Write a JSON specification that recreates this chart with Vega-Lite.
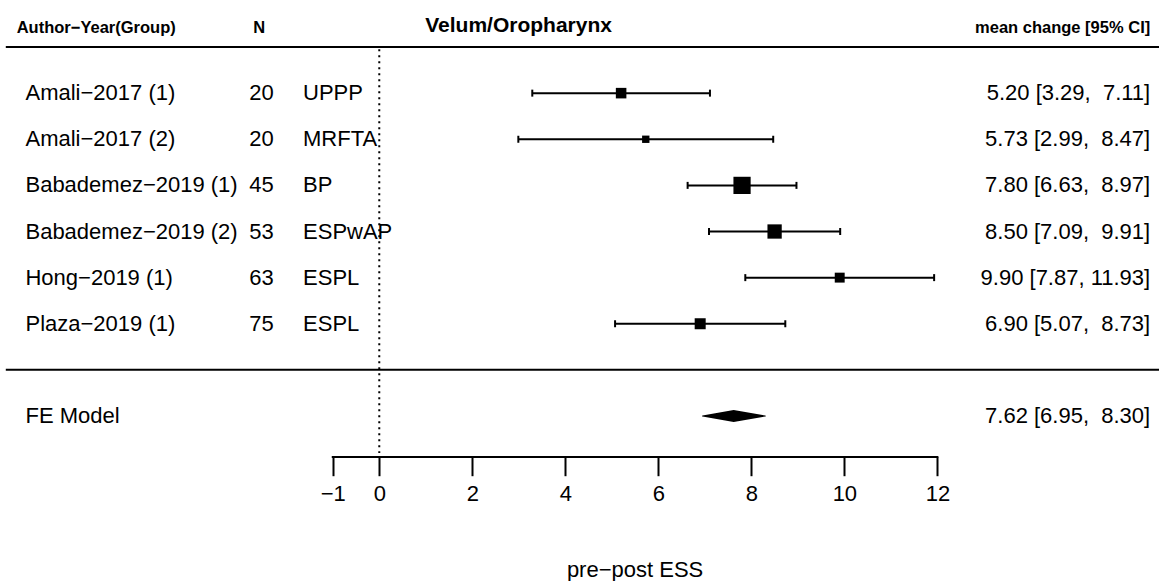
{
  "$schema": "https://vega.github.io/schema/vega-lite/v6.json",
  "width": 1160,
  "height": 581,
  "padding": 0,
  "autosize": {"type": "fit", "contains": "padding"},
  "background": "white",
  "config": {
    "view": {"stroke": null},
    "text": {"font": "Liberation Sans", "color": "black"}
  },
  "resolve": {"axis": {"x": "independent", "y": "independent"}},
  "datasets": {
    "studies": [
      {"study": "Amali−2017 (1)", "n": 20, "group": "UPPP", "estimate": 5.20, "ci_lb": 3.29, "ci_ub": 7.11, "weight": 12.56, "ci_text": "5.20 [3.29, \u00a07.11]"},
      {"study": "Amali−2017 (2)", "n": 20, "group": "MRFTA", "estimate": 5.73, "ci_lb": 2.99, "ci_ub": 8.47, "weight": 6.10, "ci_text": "5.73 [2.99, \u00a08.47]"},
      {"study": "Babademez−2019 (1)", "n": 45, "group": "BP", "estimate": 7.80, "ci_lb": 6.63, "ci_ub": 8.97, "weight": 33.48, "ci_text": "7.80 [6.63, \u00a08.97]"},
      {"study": "Babademez−2019 (2)", "n": 53, "group": "ESPwAP", "estimate": 8.50, "ci_lb": 7.09, "ci_ub": 9.91, "weight": 23.05, "ci_text": "8.50 [7.09, \u00a09.91]"},
      {"study": "Hong−2019 (1)", "n": 63, "group": "ESPL", "estimate": 9.90, "ci_lb": 7.87, "ci_ub": 11.93, "weight": 11.12, "ci_text": "9.90 [7.87, 11.93]"},
      {"study": "Plaza−2019 (1)", "n": 75, "group": "ESPL", "estimate": 6.90, "ci_lb": 5.07, "ci_ub": 8.73, "weight": 13.68, "ci_text": "6.90 [5.07, \u00a08.73]"}
    ],
    "pooled": [
      {"label": "FE Model", "estimate": 7.62, "ci_lb": 6.95, "ci_ub": 8.30, "ci_text": "7.62 [6.95, \u00a08.30]"}
    ]
  },
  "data": {"name": "studies"},
  "transform": [{"window": [{"op": "row_number", "as": "row"}]}],
  "layer": [
    {
      "data": {"values": [{}]},
      "mark": {"type": "rule", "color": "black", "strokeWidth": 2},
      "encoding": {
        "x": {"datum": -8.03, "type": "quantitative", "scale": {"domain": [-8.1547, 16.765], "nice": false, "zero": false}, "axis": null},
        "x2": {"datum": 16.765},
        "y": {"datum": 0, "type": "quantitative", "scale": {"domain": [-1.0195, 11.556], "reverse": true, "nice": false, "zero": false}, "axis": null}
      }
    },
    {
      "data": {"values": [{}]},
      "mark": {"type": "rule", "color": "black", "strokeWidth": 2},
      "encoding": {
        "x": {"datum": -8.03, "type": "quantitative", "scale": {"domain": [-8.1547, 16.765], "nice": false, "zero": false}, "axis": null},
        "x2": {"datum": 16.765},
        "y": {"datum": 7, "type": "quantitative", "scale": {"domain": [-1.0195, 11.556], "reverse": true, "nice": false, "zero": false}, "axis": null}
      }
    },
    {
      "data": {"values": [{}]},
      "mark": {"type": "rule", "color": "black", "strokeWidth": 2, "strokeDash": [2, 4]},
      "encoding": {
        "x": {"datum": 0, "type": "quantitative", "scale": {"domain": [-8.1547, 16.765], "nice": false, "zero": false}, "axis": null},
        "y": {"datum": 0.05, "type": "quantitative", "scale": {"domain": [-1.0195, 11.556], "reverse": true, "nice": false, "zero": false}, "axis": null},
        "y2": {"datum": 8.8}
      }
    },
    {
      "data": {"values": [{}]},
      "mark": {"type": "rule", "color": "black", "strokeWidth": 2, "strokeCap": "square"},
      "encoding": {
        "x": {"datum": -1, "type": "quantitative", "scale": {"domain": [-8.1547, 16.765], "nice": false, "zero": false}, "axis": null},
        "x2": {"datum": 12},
        "y": {"datum": 8.887, "type": "quantitative", "scale": {"domain": [-1.0195, 11.556], "reverse": true, "nice": false, "zero": false}, "axis": null}
      }
    },
    {
      "mark": {"type": "rule", "color": "black", "strokeWidth": 2},
      "encoding": {
        "x": {
          "field": "ci_lb", "type": "quantitative",
          "scale": {"domain": [-8.1547, 16.765], "nice": false, "zero": false},
          "axis": {
            "values": [-1, 0, 2, 4, 6, 8, 10, 12],
            "offset": -123.3,
            "domain": false, "grid": false,
            "ticks": true, "tickSize": 19, "tickWidth": 2, "tickColor": "black",
            "labelFont": "Liberation Sans", "labelFontSize": 22, "labelColor": "black",
            "labelPadding": 8, "labelFlush": false, "labelOverlap": false,
            "title": null
          }
        },
        "x2": {"field": "ci_ub"},
        "y": {"field": "row", "type": "quantitative", "scale": {"domain": [-1.0195, 11.556], "reverse": true, "nice": false, "zero": false}, "axis": null}
      }
    },
    {
      "mark": {"type": "tick", "orient": "vertical", "color": "black", "size": 7, "thickness": 2, "opacity": 1},
      "encoding": {
        "x": {"field": "ci_lb", "type": "quantitative", "scale": {"domain": [-8.1547, 16.765], "nice": false, "zero": false}, "axis": null},
        "y": {"field": "row", "type": "quantitative", "scale": {"domain": [-1.0195, 11.556], "reverse": true, "nice": false, "zero": false}, "axis": null}
      }
    },
    {
      "mark": {"type": "tick", "orient": "vertical", "color": "black", "size": 7, "thickness": 2, "opacity": 1},
      "encoding": {
        "x": {"field": "ci_ub", "type": "quantitative", "scale": {"domain": [-8.1547, 16.765], "nice": false, "zero": false}, "axis": null},
        "y": {"field": "row", "type": "quantitative", "scale": {"domain": [-1.0195, 11.556], "reverse": true, "nice": false, "zero": false}, "axis": null}
      }
    },
    {
      "mark": {"type": "point", "shape": "square", "filled": true, "color": "black", "opacity": 1},
      "encoding": {
        "x": {"field": "estimate", "type": "quantitative", "scale": {"domain": [-8.1547, 16.765], "nice": false, "zero": false}, "axis": null},
        "y": {"field": "row", "type": "quantitative", "scale": {"domain": [-1.0195, 11.556], "reverse": true, "nice": false, "zero": false}, "axis": null},
        "size": {"field": "weight", "type": "quantitative", "scale": {"domain": [0, 35], "range": [0, 310], "zero": true}, "legend": null}
      }
    },
    {
      "mark": {"type": "text", "align": "left", "baseline": "middle", "fontSize": 22},
      "encoding": {
        "x": {"datum": -7.607, "type": "quantitative", "scale": {"domain": [-8.1547, 16.765], "nice": false, "zero": false}, "axis": null},
        "y": {"field": "row", "type": "quantitative", "scale": {"domain": [-1.0195, 11.556], "reverse": true, "nice": false, "zero": false}, "axis": null},
        "text": {"field": "study", "type": "nominal"}
      }
    },
    {
      "mark": {"type": "text", "align": "right", "baseline": "middle", "fontSize": 22},
      "encoding": {
        "x": {"datum": -2.268, "type": "quantitative", "scale": {"domain": [-8.1547, 16.765], "nice": false, "zero": false}, "axis": null},
        "y": {"field": "row", "type": "quantitative", "scale": {"domain": [-1.0195, 11.556], "reverse": true, "nice": false, "zero": false}, "axis": null},
        "text": {"field": "n", "type": "nominal"}
      }
    },
    {
      "mark": {"type": "text", "align": "left", "baseline": "middle", "fontSize": 22},
      "encoding": {
        "x": {"datum": -1.639, "type": "quantitative", "scale": {"domain": [-8.1547, 16.765], "nice": false, "zero": false}, "axis": null},
        "y": {"field": "row", "type": "quantitative", "scale": {"domain": [-1.0195, 11.556], "reverse": true, "nice": false, "zero": false}, "axis": null},
        "text": {"field": "group", "type": "nominal"}
      }
    },
    {
      "mark": {"type": "text", "align": "right", "baseline": "middle", "fontSize": 22},
      "encoding": {
        "x": {"datum": 16.576, "type": "quantitative", "scale": {"domain": [-8.1547, 16.765], "nice": false, "zero": false}, "axis": null},
        "y": {"field": "row", "type": "quantitative", "scale": {"domain": [-1.0195, 11.556], "reverse": true, "nice": false, "zero": false}, "axis": null},
        "text": {"field": "ci_text", "type": "nominal"}
      }
    },
    {
      "data": {"name": "pooled"},
      "transform": [{"fold": ["ci_lb", "estimate", "ci_ub"], "as": ["key", "value"]}],
      "mark": {"type": "trail", "color": "black"},
      "encoding": {
        "x": {"field": "value", "type": "quantitative", "scale": {"domain": [-8.1547, 16.765], "nice": false, "zero": false}, "axis": null},
        "y": {"datum": 8, "type": "quantitative", "scale": {"domain": [-1.0195, 11.556], "reverse": true, "nice": false, "zero": false}, "axis": null},
        "size": {"field": "key", "type": "ordinal", "scale": {"type": "ordinal", "domain": ["ci_lb", "estimate", "ci_ub"], "range": [0, 12, 0]}, "legend": null},
        "order": {"field": "value", "type": "quantitative"}
      }
    },
    {
      "data": {"name": "pooled"},
      "mark": {"type": "text", "align": "left", "baseline": "middle", "fontSize": 22},
      "encoding": {
        "x": {"datum": -7.607, "type": "quantitative", "scale": {"domain": [-8.1547, 16.765], "nice": false, "zero": false}, "axis": null},
        "y": {"datum": 8, "type": "quantitative", "scale": {"domain": [-1.0195, 11.556], "reverse": true, "nice": false, "zero": false}, "axis": null},
        "text": {"field": "label", "type": "nominal"}
      }
    },
    {
      "data": {"name": "pooled"},
      "mark": {"type": "text", "align": "right", "baseline": "middle", "fontSize": 22},
      "encoding": {
        "x": {"datum": 16.576, "type": "quantitative", "scale": {"domain": [-8.1547, 16.765], "nice": false, "zero": false}, "axis": null},
        "y": {"datum": 8, "type": "quantitative", "scale": {"domain": [-1.0195, 11.556], "reverse": true, "nice": false, "zero": false}, "axis": null},
        "text": {"field": "ci_text", "type": "nominal"}
      }
    },
    {
      "data": {"values": [{}]},
      "mark": {"type": "text", "align": "left", "baseline": "middle", "fontSize": 16.5, "fontWeight": "bold", "text": "Author−Year(Group)"},
      "encoding": {
        "x": {"datum": -7.796, "type": "quantitative", "scale": {"domain": [-8.1547, 16.765], "nice": false, "zero": false}, "axis": null},
        "y": {"datum": -0.407, "type": "quantitative", "scale": {"domain": [-1.0195, 11.556], "reverse": true, "nice": false, "zero": false}, "axis": null}
      }
    },
    {
      "data": {"values": [{}]},
      "mark": {"type": "text", "align": "center", "baseline": "middle", "fontSize": 16.5, "fontWeight": "bold", "text": "N"},
      "encoding": {
        "x": {"datum": -2.58, "type": "quantitative", "scale": {"domain": [-8.1547, 16.765], "nice": false, "zero": false}, "axis": null},
        "y": {"datum": -0.407, "type": "quantitative", "scale": {"domain": [-1.0195, 11.556], "reverse": true, "nice": false, "zero": false}, "axis": null}
      }
    },
    {
      "data": {"values": [{}]},
      "mark": {"type": "text", "align": "center", "baseline": "middle", "fontSize": 21, "fontWeight": "bold", "text": "Velum/Oropharynx"},
      "encoding": {
        "x": {"datum": 2.995, "type": "quantitative", "scale": {"domain": [-8.1547, 16.765], "nice": false, "zero": false}, "axis": null},
        "y": {"datum": -0.463, "type": "quantitative", "scale": {"domain": [-1.0195, 11.556], "reverse": true, "nice": false, "zero": false}, "axis": null}
      }
    },
    {
      "data": {"values": [{}]},
      "mark": {"type": "text", "align": "right", "baseline": "middle", "fontSize": 16.5, "fontWeight": "bold", "text": "mean change [95% CI]"},
      "encoding": {
        "x": {"datum": 16.576, "type": "quantitative", "scale": {"domain": [-8.1547, 16.765], "nice": false, "zero": false}, "axis": null},
        "y": {"datum": -0.407, "type": "quantitative", "scale": {"domain": [-1.0195, 11.556], "reverse": true, "nice": false, "zero": false}, "axis": null}
      }
    },
    {
      "data": {"values": [{}]},
      "mark": {"type": "text", "align": "center", "baseline": "middle", "fontSize": 22, "text": "pre−post ESS"},
      "encoding": {
        "x": {"datum": 5.5, "type": "quantitative", "scale": {"domain": [-8.1547, 16.765], "nice": false, "zero": false}, "axis": null},
        "y": {"datum": 11.33, "type": "quantitative", "scale": {"domain": [-1.0195, 11.556], "reverse": true, "nice": false, "zero": false}, "axis": null}
      }
    }
  ]
}
